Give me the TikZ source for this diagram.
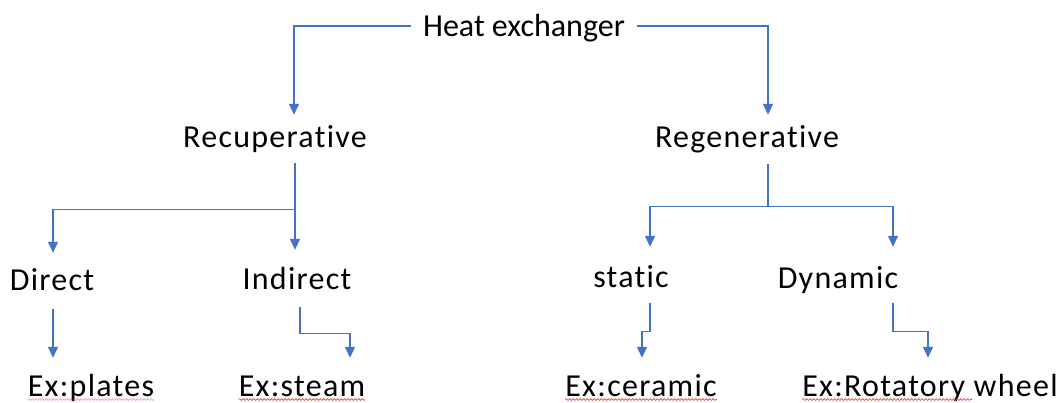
\documentclass[tikz,border=0pt]{standalone}
\usepackage{fontspec}
\setmainfont{Carlito}[Ligatures=NoCommon]
\usetikzlibrary{arrows.meta,decorations.pathmorphing}
\definecolor{lineblue}{HTML}{4472C4}
\definecolor{spellred}{HTML}{E8443A}
\newfontfamily\lblfont{Carlito}[Ligatures=NoCommon, LetterSpace=4]
\newfontfamily\headfont{Carlito}[Ligatures=NoCommon]
\begin{document}
\begin{tikzpicture}[x=1pt,y=-1pt,
  lbl/.style={font=\lblfont\fontsize{32}{38}\selectfont, text height=23pt, text depth=7pt, inner sep=0pt, anchor=base},
  headlbl/.style={lbl, font=\headfont\fontsize{32}{38}\selectfont},
  exlbl/.style={lbl, text depth=4pt},
  line/.style={draw=lineblue, line width=1.3pt},
  conn/.style={line, -{Triangle[width=10pt,length=11pt]}},
  spell/.style={draw=spellred, line width=0.6pt, decorate, decoration={snake, amplitude=0.9pt, segment length=3.5pt}}]
\useasboundingbox (0,0) rectangle (1063,402);
\fill[white] (0,0) rectangle (1063,402);

% nodes
\node[headlbl] (he)  at (524,36)  {Heat exchanger};
\node[lbl] (rec) at (275,147) {Recuperative};
\node[lbl] (reg) at (747,147) {Regenerative};
\node[lbl] (dir) at (52,290)  {Direct};
\node[lbl] (ind) at (297,289) {Indirect};
\node[lbl] (sta) at (631,287) {static};
\node[lbl] (dyn) at (838,288) {Dynamic};
\node[exlbl] (pla) at (91,396)  {Ex:plates};
\node[exlbl] (ste) at (302,396) {Ex:steam};
\node[exlbl] (cer) at (641,396) {Ex:ceramic};
\node[exlbl] (rot) at (930,396) {Ex:Rotatory wheel};

% top level
\draw[conn] ([shift={(-12pt,2pt)}]he.west) -| ([shift={(19pt,9pt)}]rec.north);
\draw[conn] ([shift={(12pt,2pt)}]he.east)  -| ([shift={(21pt,9pt)}]reg.north);

% recuperative branch
\coordinate (rj) at ([shift={(20pt,-55pt)}]rec.south);
\draw[conn] ([shift={(20pt,-9pt)}]rec.south) -- ([shift={(-2pt,16pt)}]ind.north);
\draw[conn] (rj) -| ([shift={(1pt,14pt)}]dir.north);

% regenerative branch
\coordinate (gj) at ([shift={(21pt,-52pt)}]reg.south);
\draw[line] ([shift={(21pt,-10pt)}]reg.south) -- (gj);
\draw[conn] (gj) -| ([shift={(19pt,17pt)}]sta.north);
\draw[conn] (gj) -| ([shift={(55pt,18pt)}]dyn.north);

% examples
\draw[conn] ([shift={(1pt,-12pt)}]dir.south) -- ([shift={(-38pt,15pt)}]pla.north);
\draw[conn] ([shift={(3pt,-11pt)}]ind.south) -- ++(0,26) -| ([shift={(48pt,15pt)}]ste.north);
\draw[conn] ([shift={(19pt,-9pt)}]sta.south) -- ++(0,28) -| ([shift={(1pt,15pt)}]cer.north);
\draw[conn] ([shift={(55pt,-8pt)}]dyn.south) -- ++(0,28) -| ([shift={(-2pt,15pt)}]rot.north);

% spell-check underlines
\draw[spell, draw opacity=0.5] ([yshift=-3.5pt]pla.base west) -- ([yshift=-3.5pt]pla.base east);
\draw[spell] ([yshift=-3.5pt]ste.base west) -- ([yshift=-3.5pt]ste.base east);
\draw[spell] ([yshift=-3.5pt]cer.base west) -- ([yshift=-3.5pt]cer.base east);
\draw[spell] ([yshift=-3.5pt]rot.base west) -- ([shift={(170pt,-3.5pt)}]rot.base west);
\end{tikzpicture}
\end{document}
